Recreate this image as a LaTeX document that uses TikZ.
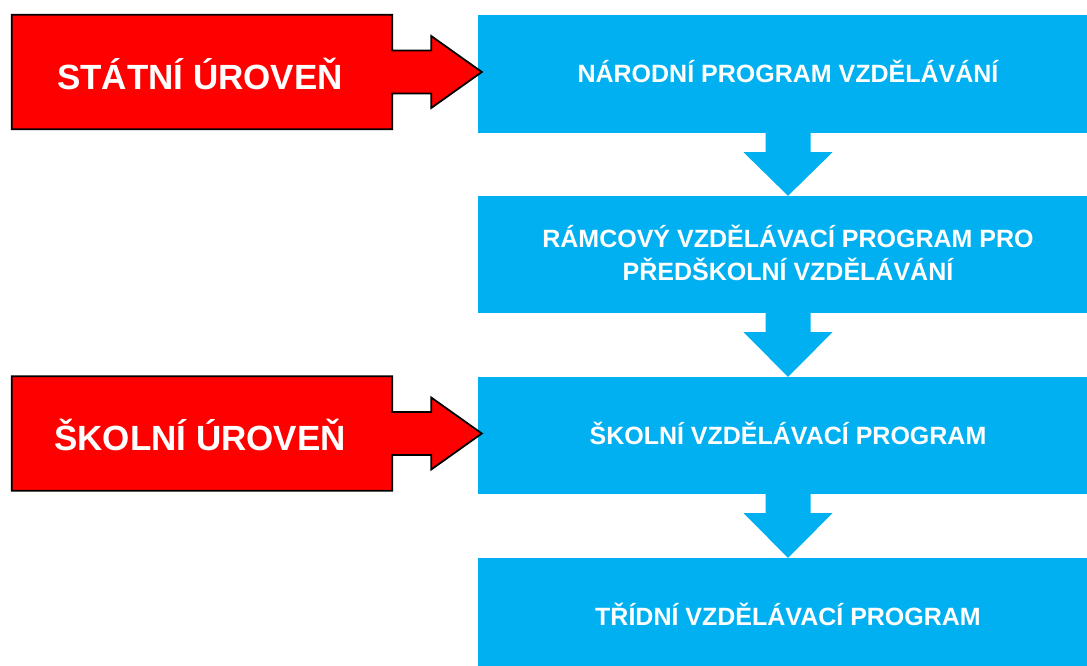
\documentclass[tikz,border=0pt]{standalone}
\usepackage{fontspec}
\setmainfont{Liberation Sans}
\usetikzlibrary{calc}
\definecolor{boxblue}{HTML}{00B0F0}
\definecolor{levelred}{HTML}{FF0000}
\tikzset{
  progbox/.style={fill=boxblue, minimum width=620pt, minimum height=117pt, inner sep=0pt,
    text=white, font=\bfseries\fontsize{25}{33}\selectfont, align=center,
    text height=18pt, text depth=0pt},
  flowarrow/.style={fill=boxblue},
  levelbody/.style={minimum width=380pt, minimum height=114pt, inner sep=0pt},
  leveltext/.style={inner sep=0pt, text=white, font=\bfseries\fontsize{35}{42}\selectfont,
    text height=36pt, text depth=0pt},
  levelarrow/.style={fill=levelred, draw=black, line width=1.8pt, line join=miter}
}
\begin{document}
\begin{tikzpicture}[x=1pt,y=-1pt]
\useasboundingbox (0,0) rectangle (1087,666);
\clip (0,0) rectangle (1087,666);

% program boxes
\node[progbox, minimum height=118pt] (b1) at (788,74) {NÁRODNÍ PROGRAM VZDĚLÁVÁNÍ};
\node[progbox, text height=51pt] (b2) at (788,254.5) {RÁMCOVÝ VZDĚLÁVACÍ PROGRAM PRO\\PŘEDŠKOLNÍ VZDĚLÁVÁNÍ};
\node[progbox] (b3) at (788,435.5) {ŠKOLNÍ VZDĚLÁVACÍ PROGRAM};
\node[progbox] (b4) at (788,616.5) {TŘÍDNÍ VZDĚLÁVACÍ PROGRAM};

% downward block arrows
\foreach \a/\b in {b1/b2, b2/b3, b3/b4}{
  \fill[flowarrow] ($(\a.south)+(-22.5,-1)$) -- ($(\a.south)+(-22.5,19)$)
    -- ($(\a.south)+(-44.5,19)$) -- (\b.north)
    -- ($(\a.south)+(44.5,19)$) -- ($(\a.south)+(22.5,19)$)
    -- ($(\a.south)+(22.5,-1)$) -- cycle;
}

% level arrows
\node[levelbody] (s1) at (202,72) {};
\node[levelbody] (s2) at (202,433.5) {};
\foreach \s/\t in {s1/b1, s2/b3}{
  \draw[levelarrow] (\s.north west) -- (\s.north east)
    -- ($(\s.east)+(0,-21.5)$) -- ($(\s.east)+(39,-21.5)$) -- ($(\s.east)+(39,-36)$)
    -- ($(\s.east -| \t.west)+(4,0)$)
    -- ($(\s.east)+(39,36)$) -- ($(\s.east)+(39,21.5)$) -- ($(\s.east)+(0,21.5)$)
    -- (\s.south east) -- (\s.south west) -- cycle;
}
\node[leveltext] (t1) at ($(s1.center)+(-2,0)$) {STÁTNÍ ÚROVEŇ};
\node[leveltext] (t2) at ($(s2.center)+(-2,-1)$) {ŠKOLNÍ ÚROVEŇ};
\end{tikzpicture}
\end{document}
